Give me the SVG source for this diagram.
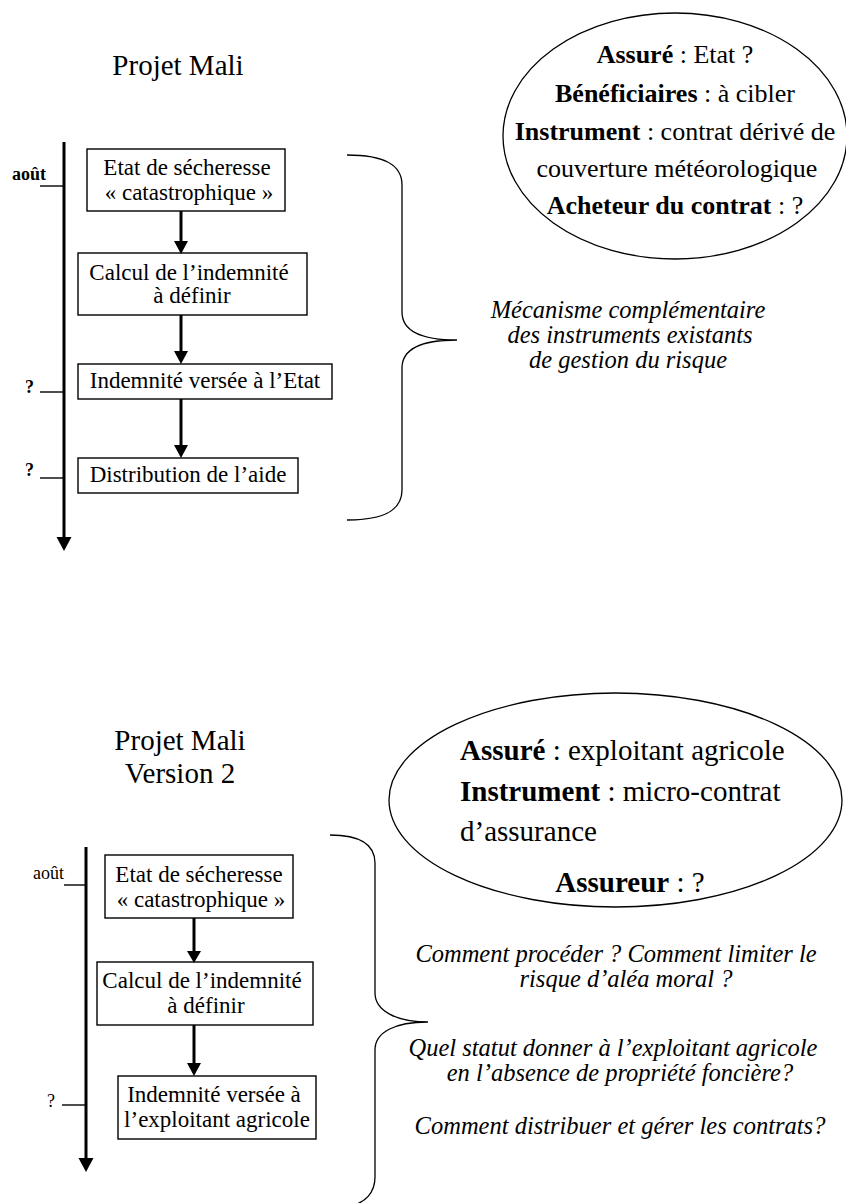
<svg xmlns="http://www.w3.org/2000/svg" width="846" height="1203" viewBox="0 0 846 1203">
<style>
text{font-family:"Liberation Serif","Times New Roman",serif;fill:#000}
.title{font-size:29px;text-anchor:middle}
.box{fill:#fff;stroke:#000;stroke-width:1.4}
.bt{font-size:23px;text-anchor:middle}
.e1{font-size:26px;text-anchor:middle}
.e2{font-size:29px}
.it{font-size:24.5px;font-style:italic;text-anchor:middle}
.b{font-weight:bold}
.axis{stroke:#000;stroke-width:3;fill:none}
.tick{stroke:#000;stroke-width:1.4}
.arr{stroke:#000;stroke-width:3}
.brace{fill:none;stroke:#000;stroke-width:1.3}
.ell{fill:none;stroke:#000;stroke-width:1.3}
.lab{font-size:18px}
</style>

<!-- Section 1 -->
<g id="title1"><text class="title" x="178" y="75">Projet Mali</text></g>

<g id="ellipse1">
<ellipse class="ell" cx="675" cy="136" rx="172" ry="123"/>
<text class="e1" x="675" y="63"><tspan class="b">Assuré</tspan> : Etat ?</text>
<text class="e1" x="675" y="102"><tspan class="b">Bénéficiaires</tspan> : à cibler</text>
<text class="e1" x="675" y="140"><tspan class="b">Instrument</tspan> : contrat dérivé de</text>
<text class="e1" x="677" y="177">couverture météorologique</text>
<text class="e1" x="675" y="214"><tspan class="b">Acheteur du contrat</tspan> : ?</text>
</g>

<g id="timeline1">
<line class="axis" x1="64" y1="142" x2="64" y2="540"/>
<path d="M56.5,537 L71.5,537 L64,551 z" fill="#000"/>
<line class="tick" x1="40" y1="186" x2="64" y2="186"/>
<line class="tick" x1="40" y1="392" x2="64" y2="392"/>
<line class="tick" x1="40" y1="478" x2="64" y2="478"/>
<text class="lab b" x="12" y="180">août</text>
<text class="lab b" x="25" y="393">?</text>
<text class="lab b" x="25" y="476">?</text>
</g>

<g id="n1">
<rect class="box" x="87" y="149" width="198" height="62"/>
<text class="bt" x="187" y="175">Etat de sécheresse</text>
<text class="bt" x="189" y="200">« catastrophique »</text>
</g>
<g id="n2">
<rect class="box" x="78" y="253" width="229" height="62"/>
<text class="bt" x="189" y="280">Calcul de l’indemnité</text>
<text class="bt" x="192" y="303">à définir</text>
</g>
<g id="n3">
<rect class="box" x="78" y="364" width="254" height="35"/>
<text class="bt" x="205" y="388">Indemnité versée à l’Etat</text>
</g>
<g id="n4">
<rect class="box" x="78" y="458" width="220" height="35"/>
<text class="bt" x="188" y="482">Distribution de l’aide</text>
</g>

<g id="brace1">
<path class="brace" d="M347,155 C385,155 402,165 402,185 L402,312 C402,330 420,340 457,340 C420,340 402,350 402,368 L402,490 C402,510 385,520 347,520"/>
</g>
<g id="note1">
<text class="it" x="628" y="318">Mécanisme complémentaire</text>
<text class="it" x="630" y="343">des instruments existants</text>
<text class="it" x="628" y="368">de gestion du risque</text>
</g>

<!-- Section 2 -->
<g id="title2">
<text class="title" x="180" y="750">Projet Mali</text>
<text class="title" x="180" y="783">Version 2</text>
</g>

<g id="ellipse2">
<ellipse class="ell" cx="615.5" cy="800" rx="226.5" ry="107"/>
<text class="e2" x="460" y="760"><tspan class="b">Assuré</tspan> : exploitant agricole</text>
<text class="e2" x="460" y="801"><tspan class="b">Instrument</tspan> : micro-contrat</text>
<text class="e2" x="460" y="841">d’assurance</text>
<text class="e2" x="630" y="892" text-anchor="middle"><tspan class="b">Assureur</tspan> : ?</text>
</g>

<g id="timeline2">
<line class="axis" x1="86" y1="847" x2="86" y2="1160"/>
<path d="M78.5,1158 L93.5,1158 L86,1172 z" fill="#000"/>
<line class="tick" x1="64" y1="885" x2="86" y2="885"/>
<line class="tick" x1="62" y1="1105" x2="86" y2="1105"/>
<text class="lab" x="33" y="879">août</text>
<text class="lab" x="47" y="1107">?</text>
</g>

<g id="m1">
<rect class="box" x="105" y="855" width="188" height="63"/>
<text class="bt" x="199" y="882">Etat de sécheresse</text>
<text class="bt" x="201" y="907">« catastrophique »</text>
</g>
<g id="m2">
<rect class="box" x="97" y="962" width="216" height="63"/>
<text class="bt" x="202" y="988">Calcul de l’indemnité</text>
<text class="bt" x="206" y="1013">à définir</text>
</g>
<g id="m3">
<rect class="box" x="118" y="1076" width="198" height="63"/>
<text class="bt" x="214" y="1102">Indemnité versée à</text>
<text class="bt" x="217" y="1127">l’exploitant agricole</text>
</g>

<g id="brace2">
<path class="brace" d="M330,835 C360,835 375,845 375,863 L375,993 C375,1010 395,1022 428,1022 C395,1022 375,1032 375,1050 L375,1177 C375,1193 365,1203 350,1206"/>
</g>
<g id="note2">
<text class="it" x="616" y="962">Comment procéder ? Comment limiter le</text>
<text class="it" x="626" y="987">risque d’aléa moral ?</text>
<text class="it" x="613" y="1056">Quel statut donner à l’exploitant agricole</text>
<text class="it" x="620" y="1081">en l’absence de propriété foncière?</text>
<text class="it" x="620" y="1134">Comment distribuer et gérer les contrats?</text>
</g>

<g id="connectors">
<line class="arr" x1="181" y1="211" x2="181" y2="242"/>
<path d="M174,241 L188,241 L181,254 z" fill="#000"/>
<line class="arr" x1="181" y1="315" x2="181" y2="352"/>
<path d="M174,351 L188,351 L181,364 z" fill="#000"/>
<line class="arr" x1="181" y1="399" x2="181" y2="446"/>
<path d="M174,445 L188,445 L181,458 z" fill="#000"/>
<line class="arr" x1="194" y1="918" x2="194" y2="952"/>
<path d="M187,951 L201,951 L194,963 z" fill="#000"/>
<line class="arr" x1="194" y1="1025" x2="194" y2="1064"/>
<path d="M187,1063 L201,1063 L194,1076 z" fill="#000"/>
</g>
</svg>
